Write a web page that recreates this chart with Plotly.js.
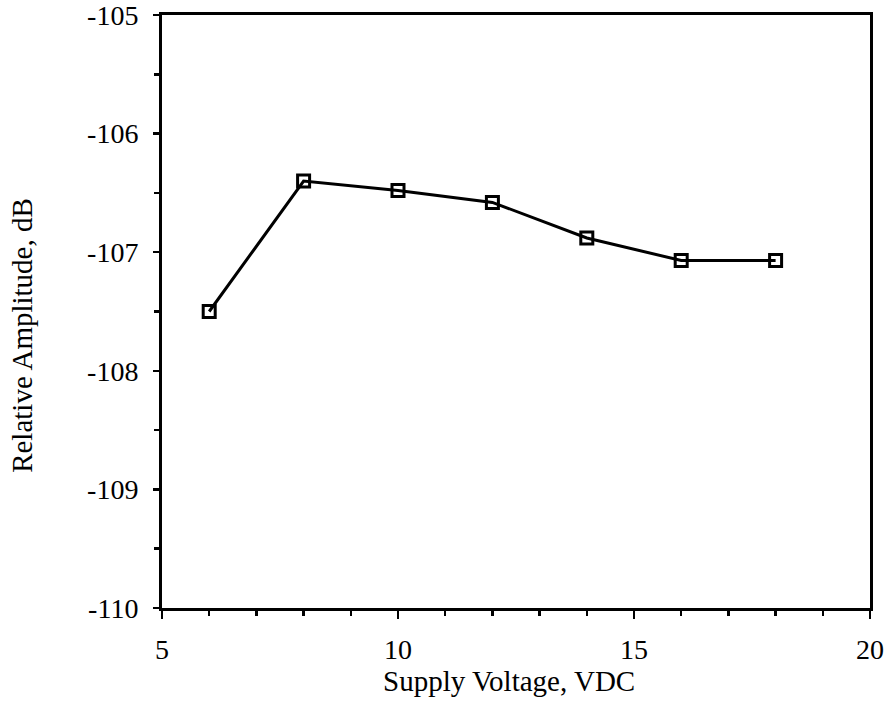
<!DOCTYPE html>
<html><head><meta charset="utf-8">
<script src="https://cdn.plot.ly/plotly-3.0.1.min.js"></script>
<style>html,body{margin:0;padding:0;background:#fff;}#chart{width:889px;height:709px;}</style>
</head><body><div id="chart"></div>
<script>
const voltage = [6, 8, 10, 12, 14, 16, 18];
const amplitude = [-107.5, -106.4, -106.48, -106.58, -106.88, -107.07, -107.07];
const yTickVals = [-110, -109, -108, -107, -106, -105];
const yTickText = ['-110', '-109', '-108', '-107', '-106', '-105'];
const xTickVals = [5, 10, 15, 20];
const xTickText = ['5', '10', '15', '20'];
const xTitle = 'Supply Voltage, VDC';
const yTitle = 'Relative Amplitude, dB';

const font = {family: 'Liberation Serif, Times New Roman, serif', color: '#000'};
Plotly.newPlot('chart', [{
  x: voltage, y: amplitude, type: 'scatter', mode: 'lines+markers',
  line: {color: '#000', width: 3},
  marker: {symbol: 'square-open', size: 12, color: '#000', line: {width: 3, color: '#000'}}
}], {
  width: 889, height: 709,
  margin: {l: 162, r: 19, t: 15, b: 101},
  paper_bgcolor: '#fff', plot_bgcolor: '#fff',
  showlegend: false,
  font: Object.assign({size: 28}, font),
  xaxis: {
    range: [5, 20], tickvals: xTickVals, ticktext: xTickText,
    showgrid: false, zeroline: false, showline: true, linecolor: '#000', linewidth: 3, mirror: true,
    ticks: 'outside', ticklen: 8, tickwidth: 2.5, tickcolor: '#000',
    minor: {dtick: 1, ticks: 'outside', ticklen: 5, tickwidth: 2.5, tickcolor: '#000', showgrid: false},
    ticklabeloverflow: 'allow', ticklabelstandoff: 6,
    tickfont: Object.assign({size: 28}, font)
  },
  yaxis: {
    range: [-110, -105], tickvals: yTickVals, ticktext: yTickText,
    showgrid: false, zeroline: false, showline: true, linecolor: '#000', linewidth: 3, mirror: true,
    ticks: 'outside', ticklen: 6, tickwidth: 2.5, tickcolor: '#000',
    minor: {dtick: 0.5, ticks: 'outside', ticklen: 5, tickwidth: 2.5, tickcolor: '#000', showgrid: false},
    ticklabeloverflow: 'allow', ticklabelstandoff: 9,
    tickfont: Object.assign({size: 28}, font)
  },
  annotations: [
    {text: xTitle, xref: 'paper', yref: 'paper', x: 0.49, y: -0.123, xanchor: 'center', yanchor: 'middle',
     showarrow: false, font: Object.assign({size: 29}, font)},
    {text: yTitle, xref: 'paper', yref: 'paper', x: -0.1977, y: 0.459, xanchor: 'center', yanchor: 'middle',
     textangle: -90, showarrow: false, font: Object.assign({size: 29}, font)}
  ]
}, {staticPlot: true});
</script></body></html>
